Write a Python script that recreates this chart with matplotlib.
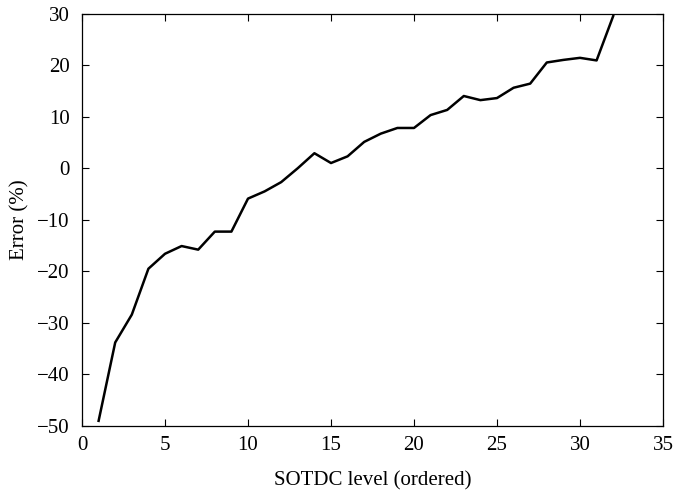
import matplotlib
matplotlib.use("Agg")
import matplotlib.pyplot as plt

levels = list(range(1, 33))
errors = [-49.0, -33.8, -28.4, -19.5, -16.6, -15.1, -15.8, -12.3, -12.3, -5.9,
          -4.5, -2.7, 0.0, 2.9, 1.0, 2.3, 5.1, 6.7, 7.8, 7.8,
          10.3, 11.3, 14.0, 13.2, 13.6, 15.6, 16.4, 20.5, 21.0, 21.4,
          20.9, 29.5]
x_ticks = [0, 5, 10, 15, 20, 25, 30, 35]
y_ticks = [-50, -40, -30, -20, -10, 0, 10, 20, 30]

plt.rcParams['font.family'] = ['Liberation Serif', 'DejaVu Serif']
plt.rcParams['font.size'] = 15
plt.rcParams['axes.unicode_minus'] = True

fig = plt.figure(figsize=(6.75, 4.91), dpi=100)
ax = fig.add_axes([0.1215, 0.1324, 0.8607, 0.8401])
ax.plot(levels, errors, color='black', linewidth=1.8)
ax.set_xlim(0, 35)
ax.set_ylim(-50, 30)
ax.set_xticks(x_ticks)
ax.set_yticks(y_ticks)
ax.tick_params(direction='in', top=True, right=True, length=5, width=0.8)
ax.tick_params(axis='x', pad=7)
ax.tick_params(axis='y', pad=9)
ax.set_xlabel('SOTDC level (ordered)', labelpad=12)
ax.set_ylabel('Error (%)', labelpad=5)
for s in ax.spines.values():
    s.set_linewidth(0.9)

fig.savefig('out.png', dpi=100)
